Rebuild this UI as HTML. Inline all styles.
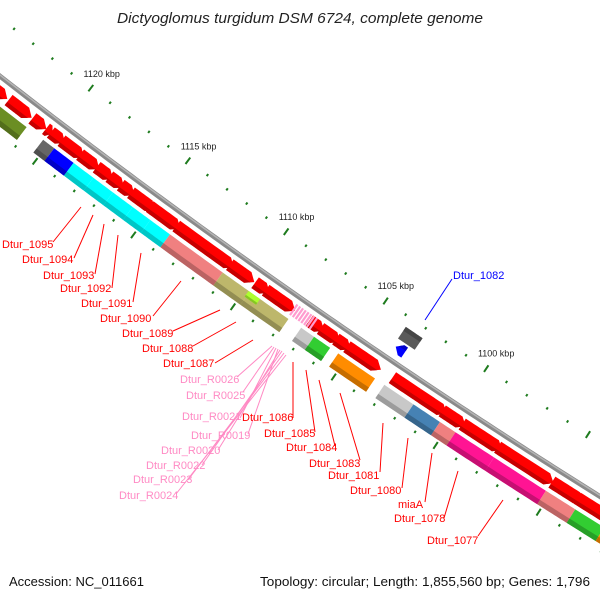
<!DOCTYPE html>
<html><head><meta charset="utf-8"><style>
html,body{margin:0;padding:0;background:#fff;}
svg{display:block;font-family:"Liberation Sans",sans-serif;}
</style></head><body>
<svg id="map" width="600" height="600" viewBox="0 0 600 600" xmlns="http://www.w3.org/2000/svg">
<rect width="600" height="600" fill="#fff"/>
<g id="ticks"></g>
<g id="feats"></g>
<g id="labels"></g>
<text x="300" y="23" text-anchor="middle" font-style="italic" font-size="14.5" fill="#222" textLength="366" lengthAdjust="spacingAndGlyphs">Dictyoglomus turgidum DSM 6724, complete genome</text>
<text x="9" y="586" font-size="13" fill="#111" textLength="135" lengthAdjust="spacingAndGlyphs">Accession: NC_011661</text>
<text x="590" y="586" text-anchor="end" font-size="13" fill="#111" textLength="330" lengthAdjust="spacingAndGlyphs">Topology: circular; Length: 1,855,560 bp; Genes: 1,796</text>
</svg>
<script>
const genomeLength = 1855.56; // kbp
const tickMajor = [1095, 1100, 1105, 1110, 1115, 1120, 1125];
const tickLabelValues = [1100, 1105, 1110, 1115, 1120];
const tickLabels = ["1100 kbp", "1105 kbp", "1110 kbp", "1115 kbp", "1120 kbp"];
// reverse-strand genes (red arrows, pointing toward decreasing position)
const revStart = [1124.5,1122.38,1121.15,1120.45,1120.2,1119.65,1118.7,1117.85,1117.2,1116.62,1116.1,1115.15,1113.8,1111.1,1109.83,1109.3,1107.12,1106.56,1105.8,1105.25,1103.0,1101.78,1100.55,1099.57,1097.84,1095.2,1093.98];
const revEnd   = [1122.45,1121.19,1120.43,1120.12,1119.47,1118.5,1117.72,1117.02,1116.45,1115.92,1114.87,1113.6,1110.9,1109.87,1109.1,1107.83,1106.38,1105.58,1105.06,1103.57,1101.47,1100.33,1099.4,1097.62,1095.12,1093.68,1092.3];
// outer COG track
const cogStart = [1124.5,1120.27,1119.70,1118.71,1117.7,1116.7,1115.7,1114.8,1113.81,1111.15,1109.8,1107.23,1106.59,1105.39,1103.11,1101.68,1100.38,1099.62,1097.74,1095.22,1093.8,1092.41];
const cogEnd   = [1121.12,1119.70,1118.71,1117.7,1116.7,1115.7,1114.8,1113.81,1111.15,1109.8,1107.86,1106.59,1105.79,1103.57,1101.68,1100.38,1099.62,1097.74,1095.22,1093.8,1092.41,1091.0];
const cogColor = ["#6b8e23","#666666","#0000ff","#00ffff","#00ffff","#00ffff","#00ffff","#00ffff","#f08080","#bdb76b","#bdb76b","#c8c8c8","#32cd32","#ff8c00","#c8c8c8","#4682b4","#f08080","#ff1493","#ff1493","#f08080","#32cd32","#ff8c00"];
// forward-strand genes (inner side)
const fwdStart = [1103.16];
const fwdEnd   = [1103.60];
const fwdColor = ["#0000ff"];
const fwdCogStart = [1102.88];
const fwdCogEnd   = [1103.71];
const fwdCogColor = ["#5a5a5a"];
// tRNA cluster
const trnaPos = [1107.9,1107.76,1107.62,1107.48,1107.34,1107.2,1107.06,1106.92];
const hlStart = [1109.85];
const hlEnd = [1109.28];

const CX = 4429, CY = -5608, R0 = 7206;
const NS = "http://www.w3.org/2000/svg";
function P(k, r){ const a = k/genomeLength*2*Math.PI; return [CX + r*Math.sin(a), CY - r*Math.cos(a)]; }
function f(p){ return p[0].toFixed(2)+","+p[1].toFixed(2); }
function mk(tag, parent){ const e = document.createElementNS(NS, tag); parent.appendChild(e); return e; }
function darker(hex, m){
  const n = parseInt(hex.slice(1),16);
  const r=((n>>16)&255)*m|0, g=((n>>8)&255)*m|0, b=(n&255)*m|0;
  return "rgb("+r+","+g+","+b+")";
}
// polygon for the region [ra,rb] of a feature from s to e (s>e), arrow tip at e (tip=1) or at s (tip=-1)
function shape(s, e, r1, r2, ra, rb, tip){
  const h = r2 - r1, rm = (r1+r2)/2;
  let head = Math.min(0.33, Math.abs(s-e)*0.6);
  const endAt = r => tip===1 ? e + head*Math.abs(r-rm)/(h/2) : e;
  const startAt = r => tip===-1 ? s - head*Math.abs(r-rm)/(h/2) : s;
  if(!tip) head = 0;
  const pts = [];
  const N = 12;
  let a0 = startAt(ra), a1 = endAt(ra);
  for(let i=0;i<=N;i++) pts.push(P(a0+(a1-a0)*i/N, ra));
  const rs = [ra]; if(tip && rm>ra && rm<rb) rs.push(rm); rs.push(rb);
  for(const r of rs) pts.push(P(endAt(r), r));
  a0 = endAt(rb); a1 = startAt(rb);
  for(let i=0;i<=N;i++) pts.push(P(a0+(a1-a0)*i/N, rb));
  const rsb = rs.slice().reverse();
  for(const r of rsb) pts.push(P(startAt(r), r));
  return pts.map(f).join(" ");
}
function feature(g, name, s, e, r1, r2, color, tip, shadeOuter){
  const p = mk("polygon", g);
  
  
  p.setAttribute("points", shape(s,e,r1,r2,r1,r2,tip));
  p.setAttribute("fill", color);
  const h = r2-r1;
  const sh = mk("polygon", g);
  
  
  if(shadeOuter) sh.setAttribute("points", shape(s,e,r1,r2,r1+h*0.68,r2,tip));
  else sh.setAttribute("points", shape(s,e,r1,r2,r1,r1+h*0.32,tip));
  sh.setAttribute("fill", darker(color,0.78));
}

// ruler
const tg = document.getElementById("ticks");
for(let k=1090;k<=1127;k++){
  const major = tickMajor.includes(k);
  for(const base of [R0-46, R0+46]){
    const len = major ? 4 : 1.3;
    const a = P(k, base-len), b = P(k, base+len);
    const l = mk("line", tg);
    
    
    l.setAttribute("x1",a[0]); l.setAttribute("y1",a[1]); l.setAttribute("x2",b[0]); l.setAttribute("y2",b[1]);
    l.setAttribute("stroke","#1e7b1e"); l.setAttribute("stroke-width", major?2:2);
  }
}
tickLabelValues.forEach((k,i)=>{
  const p = P(k, R0-64);
  const t = mk("text", tg);
  
  
  t.setAttribute("x", p[0]); t.setAttribute("y", p[1]+3);
  t.setAttribute("text-anchor","middle"); t.setAttribute("font-size","9"); t.setAttribute("fill","#222");
  t.textContent = tickLabels[i];
});

// backbone
const fg = document.getElementById("feats");
(function(){
  const pts=[]; for(let k=1090;k<=1128;k+=0.25) pts.push(f(P(k,R0)));
  const bb = mk("polyline", fg);
  
  
  bb.setAttribute("points", pts.join(" ")); bb.setAttribute("fill","none");
  bb.setAttribute("stroke","#8a8a8a"); bb.setAttribute("stroke-width","5");
  const pts2=[]; for(let k=1090;k<=1128;k+=0.25) pts2.push(f(P(k,R0-1)));
  const hl = mk("polyline", fg);
  
  
  hl.setAttribute("points", pts2.join(" ")); hl.setAttribute("fill","none");
  hl.setAttribute("stroke","#b4b4b4"); hl.setAttribute("stroke-width","1.5");
})();

cogStart.forEach((s,i)=>feature(fg, 'cog-block', s, cogEnd[i], R0+24, R0+40, cogColor[i], 0, true));
hlStart.forEach((s,i)=>feature(fg, 'cog-small-block', s, hlEnd[i], R0+24, R0+31, "#adff2f", 0, true));
revStart.forEach((s,i)=>feature(fg, 'reverse-gene', s, revEnd[i], R0+7, R0+20, "#ff0000", 1, true));
fwdCogStart.forEach((s,i)=>feature(fg, 'forward-cog-block', fwdCogEnd[i], s, R0-36, R0-22, fwdCogColor[i], 0, false));
fwdStart.forEach((s,i)=>feature(fg, 'forward-gene', fwdEnd[i], s, R0-20, R0-8, fwdColor[i], -1, false));
trnaPos.forEach(k=>{
  const a=P(k,R0+7), b=P(k,R0+20);
  const l = mk("line", fg);
  
  
  l.setAttribute("x1",a[0]); l.setAttribute("y1",a[1]); l.setAttribute("x2",b[0]); l.setAttribute("y2",b[1]);
  l.setAttribute("stroke","#ff9ccf"); l.setAttribute("stroke-width","2.2");
});

// labels: [text, x, y, lineX1, lineY1, lineX2, lineY2, color]
const labelText = ["Dtur_1095","Dtur_1094","Dtur_1093","Dtur_1092","Dtur_1091","Dtur_1090","Dtur_1089","Dtur_1088","Dtur_1087","Dtur_R0026","Dtur_R0025","Dtur_R0021","Dtur_R0019","Dtur_R0020","Dtur_R0022","Dtur_R0023","Dtur_R0024","Dtur_1086","Dtur_1085","Dtur_1084","Dtur_1083","Dtur_1081","Dtur_1080","miaA","Dtur_1078","Dtur_1077","Dtur_1082"];
const labelXY = [[2,248],[22,263],[43,279],[60,292],[81,307],[100,322],[122,337],[142,352],[163,367],[180,383],[186,399],[182,420],[191,439],[161,454],[146,469],[133,483],[119,499],[242,421],[264,437],[286,451],[309,467],[328,479],[350,494],[398,508],[394,522],[427,544],[453,279]];
const leader = [[53,242,81,207],[74,258,93,215],[95,274,104,224],[112,288,118,235],[133,302,141,253],[153,316,181,281],[173,331,220,310],[193,346,236,322],[215,363,253,340],[237,377,272,346],[243,392,274,347],[240,418,276,348],[248,434,278,349],[218,450,280,350],[202,465,282,351],[188,480,284,353],[176,494,286,355],[293,418,293,362],[315,432,306,370],[335,446,319,380],[360,460,340,393],[380,472,383,423],[402,488,408,438],[425,502,432,453],[444,518,458,471],[478,536,503,500],[452,279,425,320]];
const lg = document.getElementById("labels");
labelText.forEach((txt,i)=>{
  const col = txt.indexOf("R00")>=0 ? "#ff8ac4" : (txt==="Dtur_1082" ? "#0000ff" : "#ff0000");
  const L = leader[i];
  const l = mk("line", lg);
  
  
  l.setAttribute("x1",L[0]); l.setAttribute("y1",L[1]); l.setAttribute("x2",L[2]); l.setAttribute("y2",L[3]);
  l.setAttribute("stroke",col); l.setAttribute("stroke-width","1");
  const t = mk("text", lg);
  
  
  t.setAttribute("x", labelXY[i][0]); t.setAttribute("y", labelXY[i][1]);
  t.setAttribute("font-size","11"); t.setAttribute("fill",col);
  t.textContent = txt;
});
</script>
</body></html>
